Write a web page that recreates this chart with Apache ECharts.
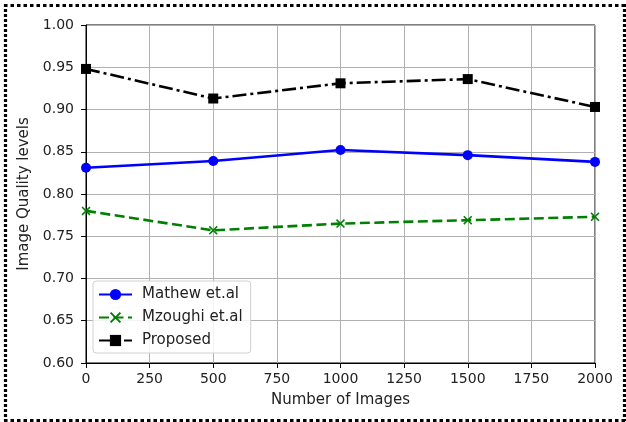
<!DOCTYPE html>
<html><head><meta charset="utf-8">
<script src="https://cdn.jsdelivr.net/npm/echarts@6/dist/echarts.min.js"></script>
<style>html,body{margin:0;padding:0;background:#fff}#c{width:626px;height:422px}</style>
</head><body><div id="c"></div>
<script>
const xValues = [0, 500, 1000, 1500, 2000];
const mathew = [0.831, 0.839, 0.852, 0.846, 0.838];
const mzoughi = [0.780, 0.757, 0.765, 0.769, 0.773];
const proposed = [0.948, 0.913, 0.931, 0.936, 0.903];
const seriesNames = ['Mathew et.al', 'Mzoughi et.al', 'Proposed'];

const pairs = arr => xValues.map((x, i) => [x, arr[i]]);
const font = 'DejaVu Sans';
const xSym = 'path://M0,1.2 L1.2,0 L5,3.8 L8.8,0 L10,1.2 L6.2,5 L10,8.8 L8.8,10 L5,6.2 L1.2,10 L0,8.8 L3.8,5 Z';
const borderStyle = (dash) => ({stroke: '#000', lineWidth: 3.2, lineDash: dash});

const chart = echarts.init(document.getElementById('c'), null, {renderer: 'canvas'});
chart.setOption({
  animation: false,
  backgroundColor: '#fff',
  textStyle: {fontFamily: font},
  grid: {left: 86, right: 31, top: 25, bottom: 59, show: true, borderColor: '#000', borderWidth: 1},
  xAxis: {
    type: 'value', min: 0, max: 2000, interval: 250,
    name: 'Number of Images', nameLocation: 'middle', nameGap: 30,
    nameTextStyle: {fontFamily: font, fontSize: 15, color: '#222'},
    axisLine: {show: true, lineStyle: {color: '#000', width: 1}},
    axisTick: {show: true, length: 5, lineStyle: {color: '#000'}},
    axisLabel: {fontFamily: font, fontSize: 14, color: '#222', margin: 9, formatter: v => String(v)},
    splitLine: {show: true, lineStyle: {color: '#b0b0b0', width: 1}}
  },
  yAxis: {
    type: 'value', min: 0.60, max: 1.00, interval: 0.05,
    name: 'Image Quality levels', nameLocation: 'middle', nameGap: 47,
    nameTextStyle: {fontFamily: font, fontSize: 15, color: '#222'},
    axisLine: {show: true, lineStyle: {color: '#000', width: 1}},
    axisTick: {show: true, length: 5, lineStyle: {color: '#000'}},
    axisLabel: {fontFamily: font, fontSize: 14, color: '#222', margin: 12, formatter: v => v.toFixed(2)},
    splitLine: {show: true, lineStyle: {color: '#b0b0b0', width: 1}}
  },
  legend: {
    orient: 'vertical', left: 93, top: 281,
    padding: [6, 8, 5, 5], itemGap: 8, itemWidth: 33, itemHeight: 14,
    backgroundColor: 'rgba(255,255,255,0.85)', borderColor: '#d0d0d0', borderWidth: 1, borderRadius: 3,
    textStyle: {fontFamily: font, fontSize: 15, color: '#222', padding: [0, 0, 0, 5]},
    data: seriesNames
  },
  graphic: [
    {type: 'line', silent: true, z: 100, shape: {x1: 4, y1: 5.5, x2: 625, y2: 5.5}, style: borderStyle([3.5, 3])},
    {type: 'line', silent: true, z: 100, shape: {x1: 4, y1: 420.5, x2: 625, y2: 420.5}, style: borderStyle([3.5, 3])},
    {type: 'line', silent: true, z: 100, shape: {x1: 5.5, y1: 4, x2: 5.5, y2: 421}, style: borderStyle([3, 2])},
    {type: 'line', silent: true, z: 100, shape: {x1: 624.5, y1: 4, x2: 624.5, y2: 421}, style: borderStyle([3, 2])}
  ],
  series: [
    {name: seriesNames[0], type: 'line', data: pairs(mathew), symbol: 'circle', symbolSize: 10,
     lineStyle: {color: '#0000ff', width: 2.6}, itemStyle: {color: '#0000ff'}},
    {name: seriesNames[1], type: 'line', data: pairs(mzoughi), symbol: xSym, symbolSize: 9,
     lineStyle: {color: '#008000', width: 2.6, type: [10, 4.5]}, itemStyle: {color: '#008000'}},
    {name: seriesNames[2], type: 'line', data: pairs(proposed), symbol: 'rect', symbolSize: 10,
     lineStyle: {color: '#000', width: 2.6, type: [14, 4, 3, 4]}, itemStyle: {color: '#000'}}
  ]
});
</script></body></html>
